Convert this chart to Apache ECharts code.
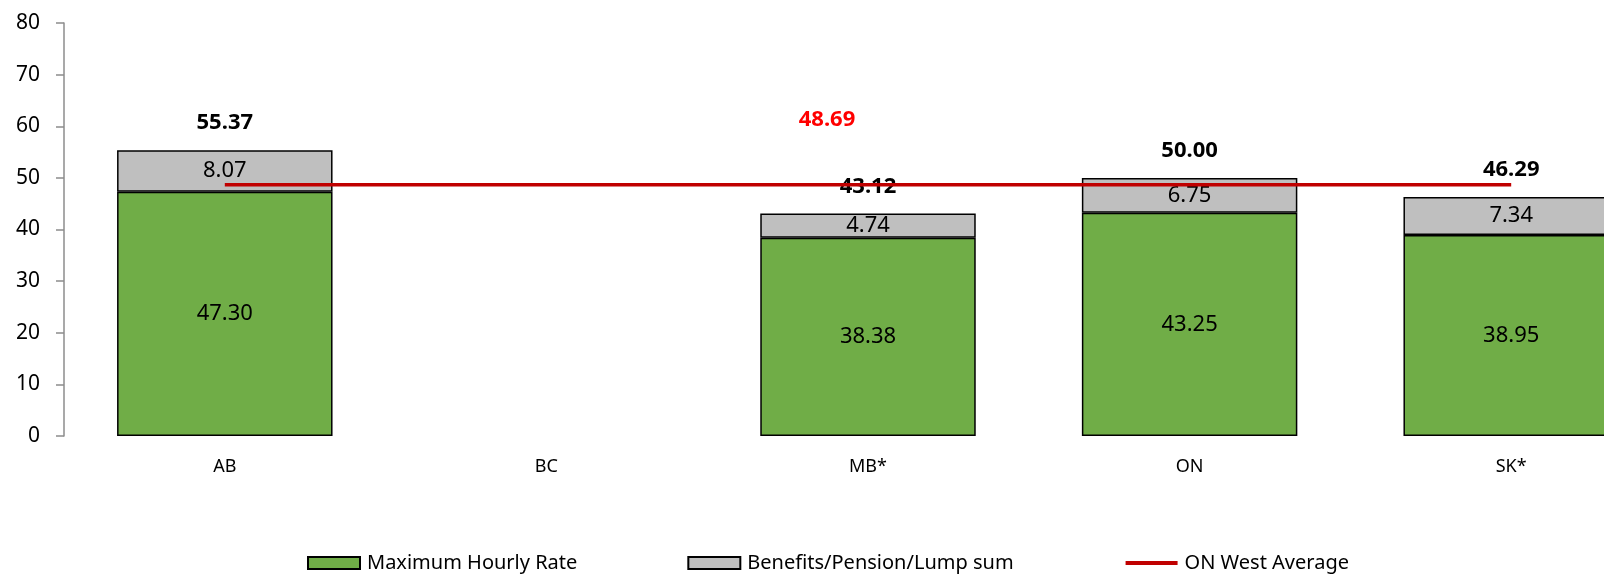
<!DOCTYPE html>
<html>
<head>
<meta charset="utf-8">
<title>Hourly rate comparison</title>
<script src="https://cdn.jsdelivr.net/npm/echarts@6/dist/echarts.min.js"></script>
<style>
  html, body { margin: 0; padding: 0; background: #ffffff; overflow: hidden; }
  /* The plot runs past the right edge of the page, so the last bar is cut off */
  #chart { width: 1672px; height: 574px; }
</style>
</head>
<body>
<div id="chart"></div>
<script>
// Provinces compared
const categories = ['AB', 'BC', 'MB*', 'ON', 'SK*'];
// Maximum hourly rate per province (BC has no figure)
const maxHourlyRate = [47.30, null, 38.38, 43.25, 38.95];
// Benefits / pension / lump sum add-on
const benefits = [8.07, null, 4.74, 6.75, 7.34];
// ON West average, drawn as a flat reference line
const onWestAverage = [48.69, 48.69, 48.69, 48.69, 48.69];
// Category whose average point carries the value label
const averageLabelIndex = 2;
// Y axis range
const yMin = 0, yMax = 80, yStep = 10;

const FONT = '"Noto Sans", "Open Sans", sans-serif';

const totals = categories.map((_, i) =>
  maxHourlyRate[i] == null || benefits[i] == null ? null : maxHourlyRate[i] + benefits[i]);

const chart = echarts.init(document.getElementById('chart'), null, { renderer: 'canvas' });

chart.setOption({
  animation: false,
  backgroundColor: '#ffffff',
  grid: { left: 64, right: 0, top: 23, bottom: 138, containLabel: false },
  legend: {
    bottom: 1,
    left: 307,
    padding: 0,
    itemWidth: 52,
    itemHeight: 12,
    itemGap: 110,
    textStyle: { fontSize: 20, fontFamily: FONT, color: '#000', padding: [0, 0, 0, 2] },
    data: [
      { name: 'Maximum Hourly Rate', icon: 'rect', itemStyle: { borderWidth: 2 } },
      { name: 'Benefits/Pension/Lump sum', icon: 'rect', itemStyle: { borderWidth: 2 } },
      {
        name: 'ON West Average',
        itemStyle: { opacity: 0 },
        lineStyle: { width: 4, color: '#C00000' }
      }
    ]
  },
  xAxis: {
    type: 'category',
    data: categories,
    axisLine: { show: false },
    axisTick: { show: false },
    axisLabel: { margin: 22, fontSize: 18, fontFamily: FONT, color: '#000' }
  },
  yAxis: {
    type: 'value',
    min: yMin,
    max: yMax,
    interval: yStep,
    splitLine: { show: false },
    axisLine: { show: true, lineStyle: { color: '#8c8c8c', width: 1.5 } },
    axisTick: { show: true, length: 8, lineStyle: { color: '#8c8c8c', width: 1.5 } },
    axisLabel: { margin: 24, fontSize: 21, fontFamily: FONT, color: '#000' }
  },
  series: [
    {
      name: 'Maximum Hourly Rate',
      type: 'bar',
      stack: 'pay',
      barWidth: '67%',
      data: maxHourlyRate,
      itemStyle: { color: '#70AD47', borderColor: '#000', borderWidth: 1.5 },
      label: {
        show: true,
        position: 'inside',
        formatter: (p) => p.value.toFixed(2),
        fontSize: 22,
        fontFamily: FONT,
        color: '#000'
      }
    },
    {
      name: 'Benefits/Pension/Lump sum',
      type: 'bar',
      stack: 'pay',
      barWidth: '67%',
      data: benefits,
      itemStyle: { color: '#BFBFBF', borderColor: '#000', borderWidth: 1.5 },
      label: {
        show: true,
        position: 'inside',
        formatter: (p) => p.value.toFixed(2),
        fontSize: 22,
        fontFamily: FONT,
        color: '#000'
      }
    },
    {
      // Zero-height stack cap that carries the bold total above each bar
      name: 'Total',
      type: 'bar',
      stack: 'pay',
      barWidth: '67%',
      data: totals.map(t => (t == null ? null : 0)),
      itemStyle: { color: 'transparent', borderWidth: 0 },
      label: {
        show: true,
        position: 'top',
        distance: 16,
        formatter: (p) => totals[p.dataIndex].toFixed(2),
        fontSize: 22,
        fontWeight: 'bold',
        fontFamily: FONT,
        color: '#000'
      },
      silent: true
    },
    {
      name: 'ON West Average',
      type: 'line',
      data: onWestAverage,
      symbol: 'none',
      lineStyle: { color: '#C00000', width: 3.5 },
      itemStyle: { color: '#C00000' },
      z: 3,
      markPoint: {
        symbol: 'circle',
        symbolSize: 0,
        data: [{
          coord: [categories[averageLabelIndex], onWestAverage[averageLabelIndex]],
          value: onWestAverage[averageLabelIndex]
        }],
        label: {
          show: true,
          position: 'inside',
          offset: [-41, -65],
          formatter: (p) => p.value.toFixed(2),
          color: '#FF0000',
          fontWeight: 'bold',
          fontSize: 22,
          fontFamily: FONT
        }
      }
    }
  ]
});
</script>
</body>
</html>
